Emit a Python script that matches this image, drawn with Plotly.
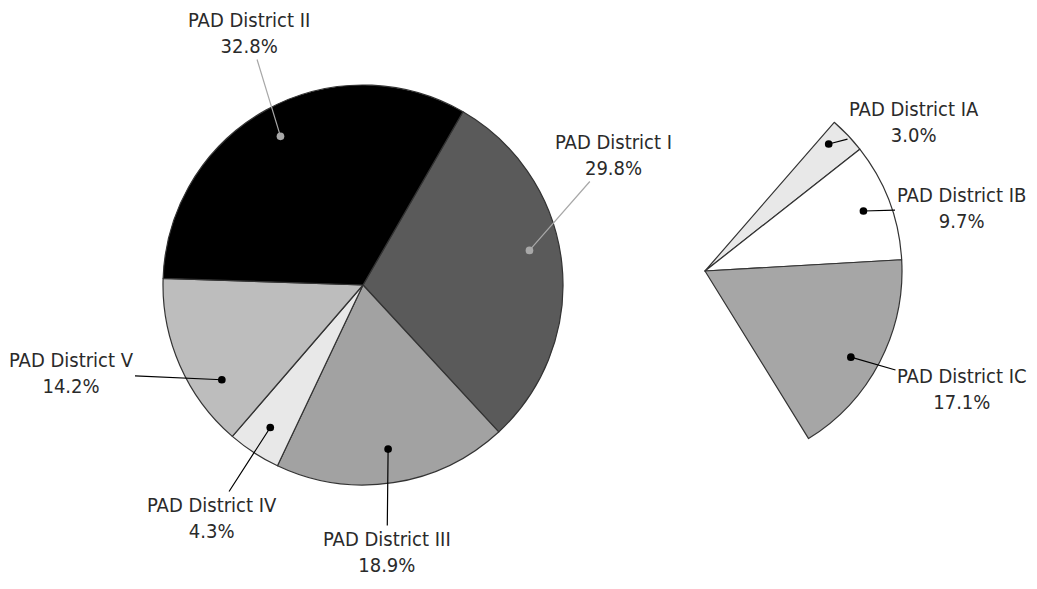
import math
import plotly.graph_objects as go

# ---------------- data ----------------
main_labels = ["PAD District I", "PAD District III", "PAD District IV",
               "PAD District V", "PAD District II"]
main_values = [29.8, 18.9, 4.3, 14.2, 32.8]

sub_labels = ["PAD District IA", "PAD District IB", "PAD District IC"]
sub_values = [3.0, 9.7, 17.1]

# ---------------- styles / layout params ----------------
main_colors = ["#5a5a5a", "#a2a2a2", "#e8e8e8", "#bdbdbd", "#000000"]
sub_colors = ["#e8e8e8", "#ffffff", "#a6a6a6"]

OFF = 8                      # page body margin in the browser
W, H = 1037 - 2 * OFF, 589 - 2 * OFF
MAIN_C, MAIN_R, MAIN_ROT = (363, 285), 200, 30
SUB_C, SUB_R, SUB_ROT = (705, 271), 197, 41

# label text centres (screen pixels) and dot placement inside slices
main_text_pos = [(613, 155), (387, 552), (212, 518), (71, 373), (249, 33)]
main_ang_frac = [0.45, 0.5, 0.5, 0.3, 0.5]
main_rad_frac = [0.85, 0.83, 0.85, 0.85, 0.85]
main_dot_colors = ["#a8a8a8", "#000000", "#000000", "#000000", "#a8a8a8"]
sub_text_pos = [(914, 122), (961, 208), (962, 389)]
sub_ang_frac = [0.3, 0.5, 0.55]
sub_rad_frac = [0.9, 0.86, 0.86]
sub_dot_colors = ["#000000", "#000000", "#000000"]

FONT = dict(family="DejaVu Sans Condensed, Liberation Sans Narrow, sans-serif",
            size=20, color="#2a2a2a")


def sx(px):
    return (px - OFF) / W


def sy(py):
    return 1 - (py - OFF) / H


def domain(c, r):
    return dict(x=[sx(c[0] - r), sx(c[0] + r)],
                y=[sy(c[1] + r), sy(c[1] - r)])


fig = go.Figure()

fig.add_trace(go.Pie(
    labels=main_labels, values=main_values, sort=False, direction="clockwise",
    rotation=MAIN_ROT, textinfo="none", hoverinfo="label+percent",
    marker=dict(colors=main_colors, line=dict(color="#333333", width=1.2)),
    domain=domain(MAIN_C, MAIN_R), showlegend=False,
))

fig.add_trace(go.Pie(
    labels=sub_labels + [""], values=sub_values + [100 - sum(sub_values)],
    sort=False, direction="clockwise", rotation=SUB_ROT, textinfo="none",
    hoverinfo="skip",
    marker=dict(colors=sub_colors + ["rgba(0,0,0,0)"],
                line=dict(color=["#333333"] * 3 + ["rgba(0,0,0,0)"],
                          width=[1.2] * 3 + [0])),
    domain=domain(SUB_C, SUB_R), showlegend=False,
))


def add_labels(labels, values, center, radius, rot, text_pos, fracs, rfracs,
               dot_colors):
    start = rot
    for lab, v, tp, fr, rf, dc in zip(labels, values, text_pos, fracs, rfracs,
                                      dot_colors):
        span = v / 100.0 * 360.0
        ang = math.radians(start + span * fr)
        px = center[0] + rf * radius * math.sin(ang)
        py = center[1] - rf * radius * math.cos(ang)
        fig.add_annotation(
            x=sx(px), y=sy(py), xref="paper", yref="paper",
            ax=tp[0] - px, ay=tp[1] - py, axref="pixel", ayref="pixel",
            text=f"{lab}<br>{v:.1f}%", showarrow=True,
            arrowhead=6, arrowsize=1.6, arrowwidth=1.2, arrowcolor=dc,
            font=FONT, align="center",
        )
        start += span


add_labels(main_labels, main_values, MAIN_C, MAIN_R, MAIN_ROT,
           main_text_pos, main_ang_frac, main_rad_frac, main_dot_colors)
add_labels(sub_labels, sub_values, SUB_C, SUB_R, SUB_ROT,
           sub_text_pos, sub_ang_frac, sub_rad_frac, sub_dot_colors)

fig.update_layout(
    width=W, height=H, margin=dict(l=0, r=0, t=0, b=0),
    paper_bgcolor="white", plot_bgcolor="white", showlegend=False,
)

fig.write_html("out.html")
